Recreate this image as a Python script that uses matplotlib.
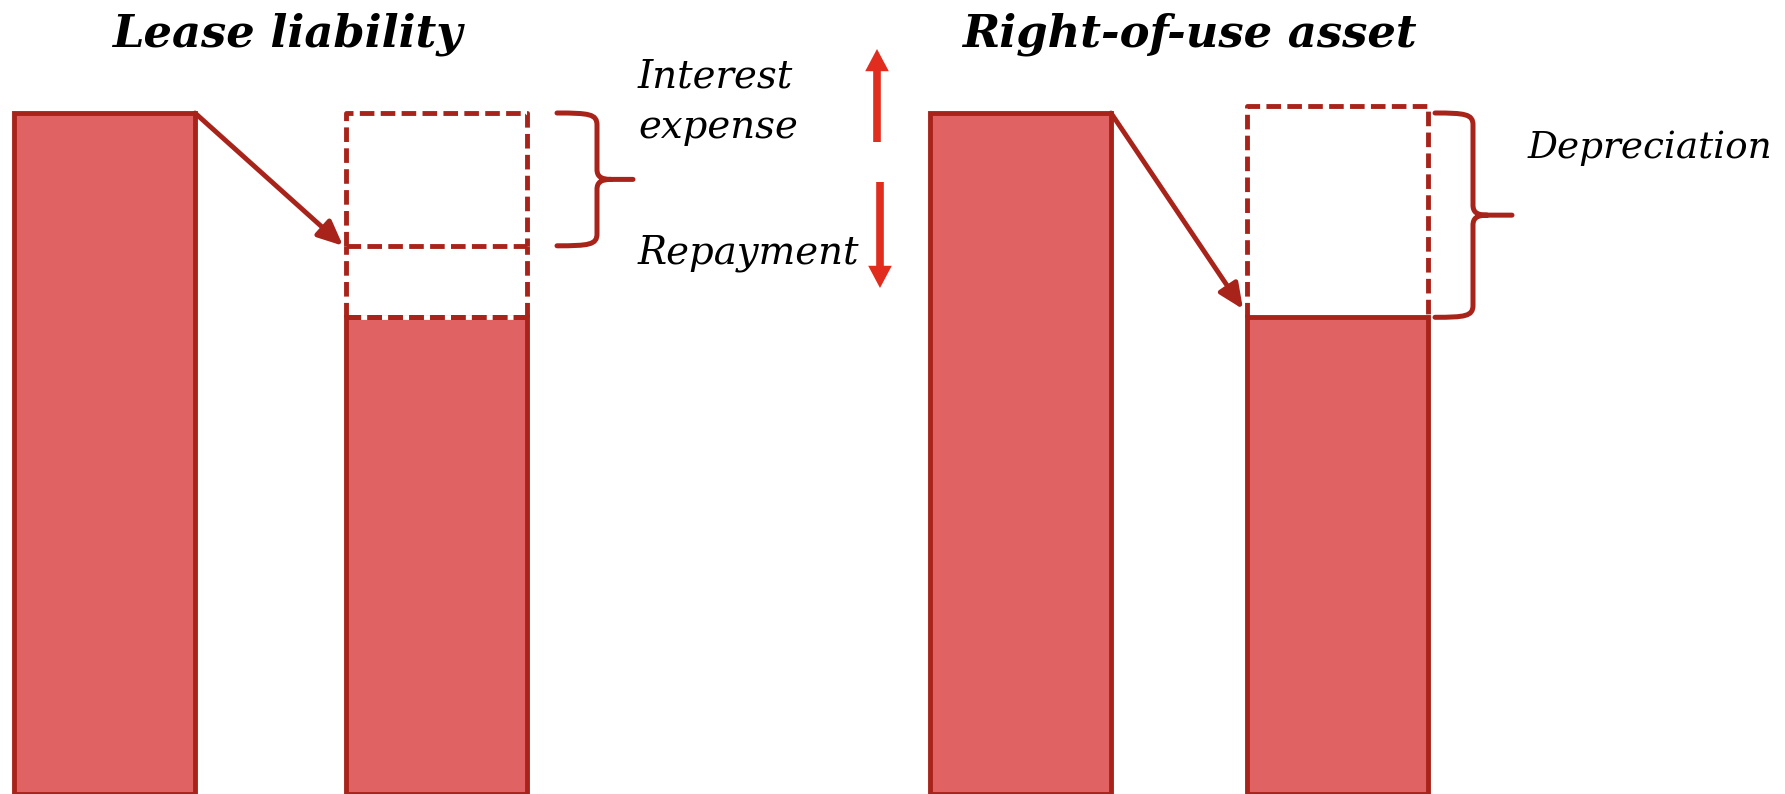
import matplotlib
matplotlib.use("Agg")
import matplotlib.pyplot as plt
from matplotlib.path import Path
from matplotlib.patches import PathPatch, FancyArrowPatch

# balances, opening balance = 100
titles = ["Lease liability", "Right-of-use asset"]
bar_values = [100, 70, 100, 70]          # opening / closing, lease then ROU
lease_split = 80.5                       # interest expense vs repayment
rou_box_top = 101
side_labels = ["Interest", "expense", "Repayment", "Depreciation"]

FILL = "#E06262"
EDGE = "#A8231A"
BRIGHT = "#E12D1E"

W, H = 1785, 794
PX = 6.81            # pixels per unit
LW = 3.5
def py(ypx):
    # pixel row -> data value
    return (H - ypx) / PX

fig = plt.figure(figsize=(W / 100, H / 100), dpi=100)
ax = fig.add_axes([0, 0, 1, 1])
ax.set_xlim(0, W)
ax.set_ylim(0, H / PX)
ax.axis("off")

bar_x = [104.5, 436.5, 1020.5, 1337.8]
bar_w = 181
ax.bar(bar_x, bar_values, width=bar_w, color=FILL, edgecolor=EDGE,
       linewidth=LW, zorder=2)

dash = dict(color=EDGE, lw=LW, linestyle=(0, (3.0, 1.3)), gapcolor="white",
            solid_capstyle="butt", dash_capstyle="butt")

# lease liability: dashed interest / repayment boxes on the closing bar
l, r = bar_x[1] - bar_w / 2, bar_x[1] + bar_w / 2
ax.plot([l, l, r, r], [lease_split, bar_values[0], bar_values[0], lease_split], zorder=3, **dash)
ax.plot([l, r], [lease_split, lease_split], zorder=3, **dash)
ax.plot([l, l], [bar_values[1], lease_split], zorder=3, **dash)
ax.plot([r, r], [bar_values[1], lease_split], zorder=3, **dash)
ax.plot([l, r], [bar_values[1], bar_values[1]], zorder=3, **dash)

# right-of-use asset: dashed box above the closing bar
l, r = bar_x[3] - bar_w / 2, bar_x[3] + bar_w / 2
ax.plot([l, l, r, r], [bar_values[3], rou_box_top, rou_box_top, bar_values[3]], zorder=1, **dash)


def link(x0, y0, x1, y1):
    a = FancyArrowPatch((x0, y0), (x1, y1), arrowstyle="-|>,head_length=1.0,head_width=0.45",
                        mutation_scale=15, color=EDGE, lw=LW, shrinkA=0, shrinkB=0, zorder=4)
    ax.add_patch(a)

link(bar_x[0] + bar_w / 2, bar_values[0], 343, lease_split)
link(bar_x[2] + bar_w / 2, bar_values[2], 1243, bar_values[3] + 1.2)


def brace(x0, xv, xt, v_top, v_bot):
    yt, yb = H - v_top * PX, H - v_bot * PX
    ym = (yt + yb) / 2
    pts = [(x0, yt), (xv - 8, yt), (xv, yt + 1), (xv, yt + 12),
           (xv, ym - 10),
           (xv, ym - 3), (xv + 4, ym), (xv + 14, ym),
           (xt, ym),
           (xv + 14, ym),
           (xv + 4, ym), (xv, ym + 3), (xv, ym + 10),
           (xv, yb - 12),
           (xv, yb - 1), (xv - 8, yb), (x0, yb)]
    codes = [Path.MOVETO, Path.CURVE4, Path.CURVE4, Path.CURVE4,
             Path.LINETO,
             Path.CURVE4, Path.CURVE4, Path.CURVE4,
             Path.LINETO,
             Path.MOVETO,
             Path.CURVE4, Path.CURVE4, Path.CURVE4,
             Path.LINETO,
             Path.CURVE4, Path.CURVE4, Path.CURVE4]
    verts = [(x, py(y)) for x, y in pts]
    p = PathPatch(Path(verts, codes), facecolor="none", edgecolor=EDGE, lw=3.6,
                  capstyle="round", joinstyle="round", zorder=4)
    ax.add_patch(p)

brace(557, 597, 633, bar_values[0], lease_split)
brace(1435, 1473, 1512, bar_values[2], bar_values[3])

# up / down arrows next to the lease labels
for (x, y0, y1) in [(877, 142, 49), (880, 182, 288)]:
    a = FancyArrowPatch((x, py(y0)), (x, py(y1)),
                        arrowstyle="simple,head_length=16,head_width=17,tail_width=5.5",
                        mutation_scale=1, color=BRIGHT, lw=0, shrinkA=0, shrinkB=0)
    ax.add_patch(a)

fig.canvas.draw()
rend = fig.canvas.get_renderer()

def fit(t, target):
    w = t.get_window_extent(rend).width
    t.set_fontsize(t.get_fontsize() * target / w)

serif = "DejaVu Serif"
t1 = ax.text(112, py(47), titles[0], family=serif, style="italic", weight="bold",
             fontsize=30, ha="left", va="baseline")
t2 = ax.text(962, py(47), titles[1], family=serif, style="italic", weight="bold",
             fontsize=30, ha="left", va="baseline")
fit(t1, 350)
fit(t2, 455)

lab = [ax.text(638, py(y), s, family=serif, style="italic", fontsize=24,
               ha="left", va="baseline")
       for s, y in zip(side_labels[:3], [87, 138, 263])]
fit(lab[2], 222)
for t in lab[:2]:
    t.set_fontsize(lab[2].get_fontsize())
dep = ax.text(1528, py(158), side_labels[3], family=serif, style="italic",
              fontsize=24, ha="left", va="baseline")
fit(dep, 245)

fig.savefig("out.png", dpi=100, facecolor="white")
